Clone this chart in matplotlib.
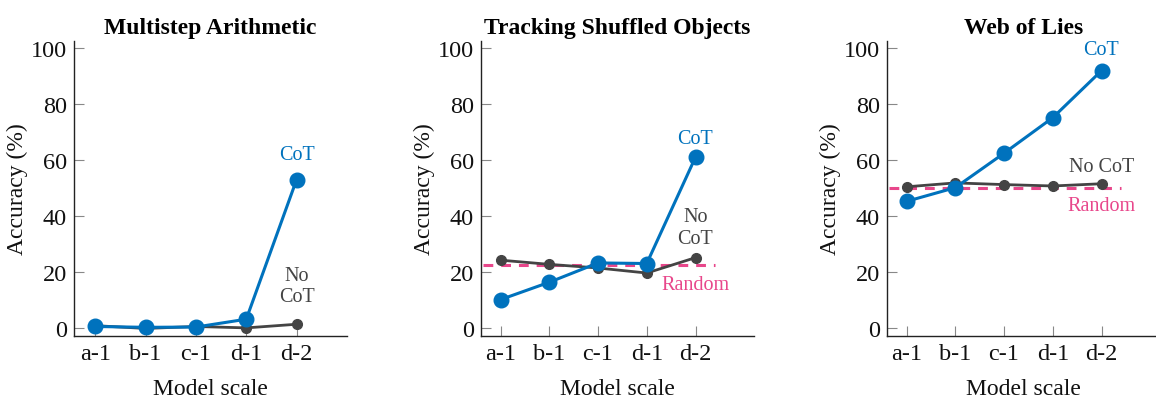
import matplotlib
matplotlib.use("Agg")
import matplotlib.pyplot as plt

plt.rcParams['font.family'] = ['Liberation Serif', 'DejaVu Serif']
plt.rcParams['mathtext.fontset'] = 'stix'

models = ["a-1", "b-1", "c-1", "d-1", "d-2"]
titles = ["Multistep Arithmetic", "Tracking Shuffled Objects", "Web of Lies"]

cot_arith = [0.5, 0.2, 0.3, 3.1, 53.0]
nocot_arith = [0.8, -0.2, 0.5, 0.0, 1.3]

cot_track = [10.1, 16.3, 23.2, 23.0, 61.0]
nocot_track = [24.2, 22.7, 21.4, 19.6, 25.1]
random_track = 22.5

cot_web = [45.2, 50.1, 62.4, 75.1, 91.9]
nocot_web = [50.4, 51.8, 51.2, 50.7, 51.5]
random_web = 50.0

BLUE = "#0072BD"
GRAY = "#444444"
PINK = "#E8478B"

W, H = 1156, 406
fig = plt.figure(figsize=(W / 100, H / 100), dpi=100)

# pixel boxes: (left, right, top, bottom), xlim
boxes = [((74, 347, 42, 337), (-0.42, 5.0)),
         ((481, 754, 42, 337), (-0.40, 5.2)),
         ((887, 1160, 42, 337), (-0.40, 5.2))]

series = [(cot_arith, nocot_arith, None),
          (cot_track, nocot_track, random_track),
          (cot_web, nocot_web, random_web)]

x = list(range(len(models)))
axes = []
for (box, xl), (cot, nocot, rnd), title in zip(boxes, series, titles):
    l, r, t, b = box
    ax = fig.add_axes([l / W, 1 - b / H, (r - l) / W, (b - t) / H])
    axes.append(ax)
    ax.set_xlim(*xl)
    ax.set_ylim(-2.9, 102.5)
    if rnd is not None:
        ax.plot([-0.36, 4.4], [rnd, rnd], color=PINK, lw=2.2, ls=(0, (3.2, 2.6)), zorder=1)
    ax.plot(x, nocot, color=GRAY, lw=2.0, marker='o', ms=7, zorder=2)
    ax.plot(x, cot, color=BLUE, lw=2.2, marker='o', ms=10.5, zorder=3)
    ax.set_xticks(x)
    ax.set_xticklabels(models)
    ax.set_yticks([0, 20, 40, 60, 80, 100])
    for s in ['top', 'right']:
        ax.spines[s].set_visible(False)
    for s in ['left', 'bottom']:
        ax.spines[s].set_linewidth(1.0)
        ax.spines[s].set_color('#222222')
    ax.tick_params(axis='both', direction='in', length=7, width=0.8,
                   color='#888888', labelsize=17.5, pad=5, labelcolor='#111111')
    ax.set_xlabel("Model scale", fontsize=17, labelpad=10, color='#111111')
    ax.set_ylabel("Accuracy (%)", fontsize=17, labelpad=2, color='#111111')
    ax.set_title(title, fontsize=17, fontweight='bold', pad=6)

# annotations
a1, a2, a3 = axes
a1.text(4, 62, "CoT", color=BLUE, fontsize=14.5, ha='center', va='center')
a1.text(4, 15, "No\nCoT", color=GRAY, fontsize=14.5, ha='center', va='center', linespacing=1.2)

a2.text(4, 67.6, "CoT", color=BLUE, fontsize=14.5, ha='center', va='center')
a2.text(4, 35.9, "No\nCoT", color=GRAY, fontsize=14.5, ha='center', va='center', linespacing=1.2)
a2.text(4, 15.6, "Random", color=PINK, fontsize=14.5, ha='center', va='center')

a3.text(4, 99.5, "CoT", color=BLUE, fontsize=14.5, ha='center', va='center')
a3.text(4, 57.5, "No CoT", color=GRAY, fontsize=14.5, ha='center', va='center')
a3.text(4, 43.6, "Random", color=PINK, fontsize=14.5, ha='center', va='center')

fig.savefig("out.png", dpi=100)
